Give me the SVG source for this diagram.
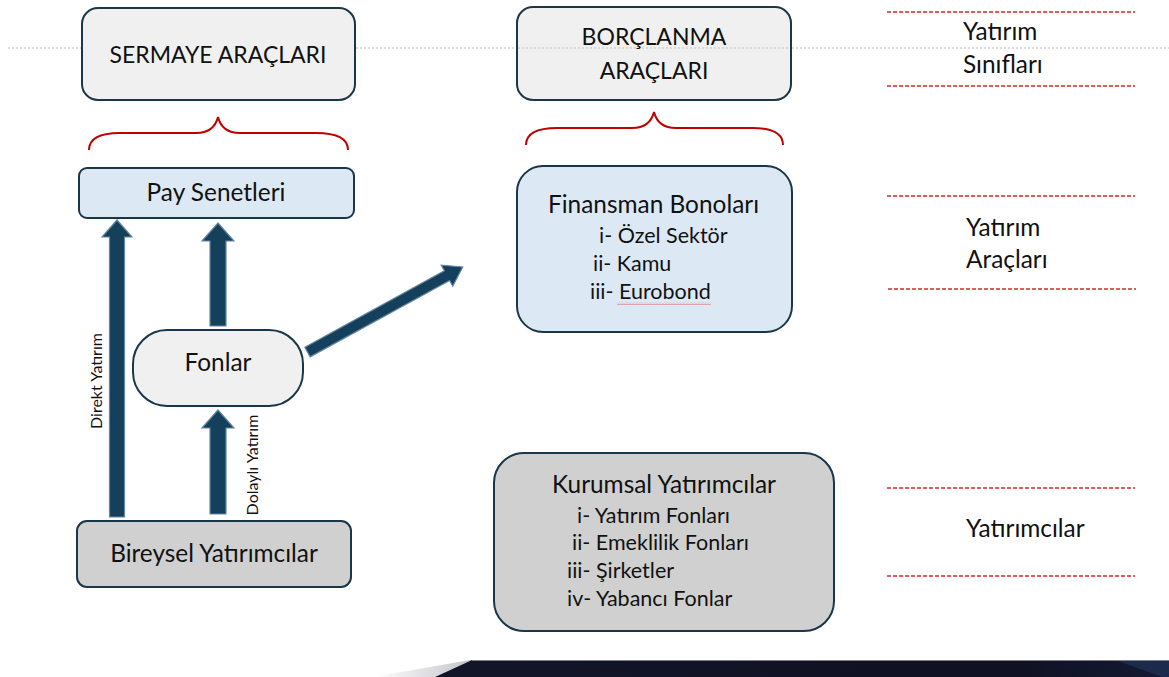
<svg xmlns="http://www.w3.org/2000/svg" width="1169" height="677" viewBox="0 0 1169 677">
  <style>
    .box { stroke: #1a3649; stroke-width: 2; }
    .light { fill: #f0f0f0; }
    .blue { fill: #dce9f5; }
    .grey { fill: #d0d0d0; }
    .t { font-family: Lato, "Open Sans", sans-serif; fill: #111; }
    .big { font-size: 24.4px; }
    .caps { font-size: 23px; }
    .mid { font-size: 21.5px; }
    .small { font-size: 16px; }
    .brace { fill: none; stroke: #c00000; stroke-width: 2; }
    .sep { stroke: #d42a2a; stroke-width: 1.5; stroke-dasharray: 4 2; }
    .arrow { fill: #15405c; stroke: #6686a6; stroke-width: 1.2; }
  </style>
  <defs>
    <linearGradient id="wedge" x1="0" y1="0" x2="1" y2="0">
      <stop offset="0" stop-color="#ffffff"/>
      <stop offset="1" stop-color="#c4c4cc"/>
    </linearGradient>
    <linearGradient id="band" x1="0" y1="0" x2="1" y2="0">
      <stop offset="0" stop-color="#121428"/>
      <stop offset="0.8" stop-color="#101223"/>
      <stop offset="1" stop-color="#141a33"/>
    </linearGradient>
    <pattern id="wave" width="3" height="3" patternUnits="userSpaceOnUse">
      <path d="M0,0.5 L1.5,2.2 L3,0.5" fill="none" stroke="#e06060" stroke-width="0.8"/>
    </pattern>
  </defs>

  <rect width="1169" height="677" fill="#ffffff"/>

  <!-- dotted guide line -->
  <line x1="8" y1="48" x2="1169" y2="48" stroke="#b8b8b8" stroke-width="1" stroke-dasharray="2 2"/>

  <!-- bottom decoration -->
  <g id="footer">
    <polygon points="373,677 470,660 472,660 435,677" fill="url(#wedge)"/>
    <polygon points="472,660 1169,660 1169,677 435,677" fill="url(#band)"/>
    <polygon points="1118,661 1169,661 1169,677 1162,677" fill="#1c2a4c"/>
    <line x1="472" y1="660.5" x2="1169" y2="660.5" stroke="#7c7e90" stroke-width="1"/>
  </g>

  <g id="sermaye">
    <rect class="box light" x="82" y="8" width="273" height="92" rx="16"/>
    <text class="t caps" x="218" y="63" text-anchor="middle">SERMAYE ARAÇLARI</text>
  </g>

  <g id="borclanma">
    <rect class="box light" x="517" y="7" width="274" height="93" rx="16"/>
    <line x1="518" y1="48" x2="790" y2="48" stroke="#c0c0c0" stroke-width="1" stroke-dasharray="2 2"/>
    <text class="t caps" x="654" y="45" text-anchor="middle">BORÇLANMA</text>
    <text class="t caps" x="654" y="79" text-anchor="middle">ARAÇLARI</text>
  </g>

  <g id="braces">
    <path class="brace" d="M89,150 Q89,133 120,133 L196,133 Q214,133 218,117 Q222,133 240,133 L316,133 Q348,133 348,150"/>
    <path class="brace" d="M526,145 Q526,128 557,128 L632,128 Q650,128 654,112 Q658,128 676,128 L752,128 Q783,128 783,145"/>
  </g>

  <g id="pay-senetleri">
    <rect class="box blue" x="79" y="168" width="275" height="50" rx="8"/>
    <text class="t big" x="216" y="201" text-anchor="middle">Pay Senetleri</text>
  </g>

  <g id="finansman-bonolari">
    <rect class="box blue" x="517" y="166" width="275" height="166" rx="26"/>
    <text class="t big" x="548" y="213">Finansman Bonoları</text>
    <text class="t mid" x="599" y="243">i- Özel Sektör</text>
    <text class="t mid" x="593" y="271">ii- Kamu</text>
    <text class="t mid" x="590" y="299">iii- Eurobond</text>
    <rect x="617" y="302" width="94" height="3" fill="url(#wave)"/>
  </g>

  <g id="fonlar">
    <rect class="box light" x="133" y="330" width="170" height="76" rx="34"/>
    <text class="t big" x="218" y="371" text-anchor="middle">Fonlar</text>
  </g>

  <g id="bireysel">
    <rect class="box grey" x="77" y="521" width="274" height="66" rx="10"/>
    <text class="t big" x="214" y="562" text-anchor="middle">Bireysel Yatırımcılar</text>
  </g>

  <g id="kurumsal">
    <rect class="box grey" x="494" y="453" width="340" height="178" rx="30"/>
    <text class="t big" x="552" y="493">Kurumsal Yatırımcılar</text>
    <text class="t mid" x="577" y="523">i- Yatırım Fonları</text>
    <text class="t mid" x="572" y="550">ii- Emeklilik Fonları</text>
    <text class="t mid" x="567" y="578">iii- Şirketler</text>
    <text class="t mid" x="567" y="606">iv- Yabancı Fonlar</text>
  </g>

  <g id="connectors">
    <polygon class="arrow" points="109.5,517 109.5,237 102,237 117,220 132,237 124.5,237 124.5,517"/>
    <polygon class="arrow" points="210,326 210,241 202,241 218,223 234,241 226,241 226,326"/>
    <polygon class="arrow" points="210,514 210,428 202,428 218,410 234,428 226,428 226,514"/>
    <polygon class="arrow" transform="translate(307.5,352) rotate(-28.7)" points="0,-5.5 159,-5.5 159,-12 177,0 159,12 159,5.5 0,5.5"/>
    <text class="t small" transform="translate(102,381) rotate(-90)" text-anchor="middle">Direkt Yatırım</text>
    <text class="t small" transform="translate(258,465) rotate(-90)" text-anchor="middle">Dolaylı Yatırım</text>
  </g>

  <g id="levels">
    <line class="sep" x1="887" y1="12" x2="1135" y2="12"/>
    <line class="sep" x1="887" y1="86" x2="1135" y2="86"/>
    <text class="t big" x="963" y="40">Yatırım</text>
    <text class="t big" x="963" y="73">Sınıfları</text>
    <line class="sep" x1="887" y1="196" x2="1135" y2="196"/>
    <line class="sep" x1="888" y1="289" x2="1136" y2="289"/>
    <text class="t big" x="966" y="236">Yatırım</text>
    <text class="t big" x="966" y="268">Araçları</text>
    <line class="sep" x1="887" y1="488" x2="1135" y2="488"/>
    <line class="sep" x1="887" y1="576" x2="1135" y2="576"/>
    <text class="t big" x="966" y="537">Yatırımcılar</text>
  </g>
</svg>
